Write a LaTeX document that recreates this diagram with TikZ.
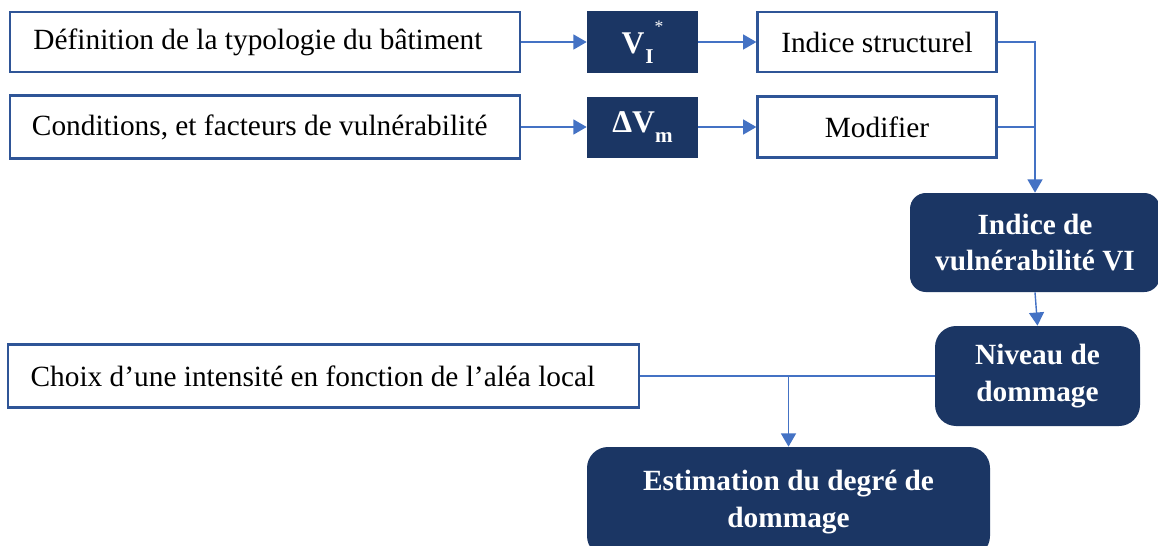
\documentclass[tikz,border=0pt]{standalone}
\usepackage{fontspec}
\setmainfont{Liberation Serif}
\usetikzlibrary{arrows.meta}
\definecolor{navy}{HTML}{1B3664}
\definecolor{edgeblue}{HTML}{2F5597}
\definecolor{linkblue}{HTML}{4472C4}
\tikzset{
  plainbox/.style={draw=edgeblue, line width=1.3pt, fill=white, inner sep=0pt, font=\fontsize{16.7}{20}\selectfont},
  darkbox/.style={fill=navy, text=white, inner sep=0pt, font=\bfseries\fontsize{18}{20}\selectfont},
  roundbox/.style={darkbox, rounded corners=9pt, align=center, font=\bfseries\fontsize{16.7}{21}\selectfont},
  link/.style={draw=linkblue, line width=0.8pt},
  arr/.style={link, -{Triangle[length=7.5pt, width=8.5pt]}}
}
\newcommand{\lowidx}[1]{\raisebox{-5.6pt}{\fontsize{12}{12}\selectfont #1}}
\begin{document}
\begin{tikzpicture}[x=0.02cm, y=-0.02cm]
  \clip (0,0) rectangle (1158,545);
  \useasboundingbox (0,0) rectangle (1158,545);
  % first row
  \node[plainbox, minimum width=510*0.02cm, minimum height=60*0.02cm] (def) at (265,42) {Définition de la typologie du bâtiment\kern8pt};
  \node[darkbox, minimum width=111*0.02cm, minimum height=62*0.02cm] (vi) at (642.5,42) {V\kern0.5pt\lowidx{I}\kern0.5pt\raisebox{12pt}{\mdseries\fontsize{10}{10}\selectfont *}};
  \node[plainbox, minimum width=239*0.02cm, minimum height=60*0.02cm] (ind) at (877,42) {Indice structurel};
  % second row
  \node[plainbox, minimum width=510*0.02cm, minimum height=63*0.02cm] (cond) at (265,127) {Conditions, et facteurs de vulnérabilité\kern6pt};
  \node[darkbox, minimum width=111*0.02cm, minimum height=61*0.02cm] (dvm) at (642.5,127) {ΔV\lowidx{m}};
  \node[plainbox, minimum width=239*0.02cm, minimum height=61*0.02cm] (mod) at (877,127) {Modifier};
  % right column
  \node[roundbox, minimum width=250*0.02cm, minimum height=99*0.02cm] (vuln) at (1035,242.5) {Indice de\\vulnérabilité VI};
  \node[roundbox, rounded corners=12pt, minimum width=205*0.02cm, minimum height=100*0.02cm] (niv) at (1037.5,376) {Niveau de\\dommage};
  % bottom
  \node[plainbox, minimum width=631*0.02cm, minimum height=63*0.02cm] (choix) at (323.5,376) {Choix d’une intensité en fonction de l’aléa local\kern12pt};
  \node[roundbox, rounded corners=12pt, minimum width=403*0.02cm, minimum height=110*0.02cm] (est) at (788.5,502) {Estimation du degré de\\dommage};
  % connectors
  \draw[arr] (def) -- (vi);
  \draw[arr] (vi) -- (ind);
  \draw[arr] (cond) -- (dvm);
  \draw[arr] (dvm) -- (mod);
  \draw[arr] (ind.east) -| (vuln.north);
  \draw[link] (mod.east) -- (mod.east -| vuln.north);
  \draw[arr] (vuln.south) -- (niv.north);
  \draw[link] (choix.east) -- (niv.west);
  \draw[arr] (choix.east -| est.north) -- (est.north);
\end{tikzpicture}
\end{document}
